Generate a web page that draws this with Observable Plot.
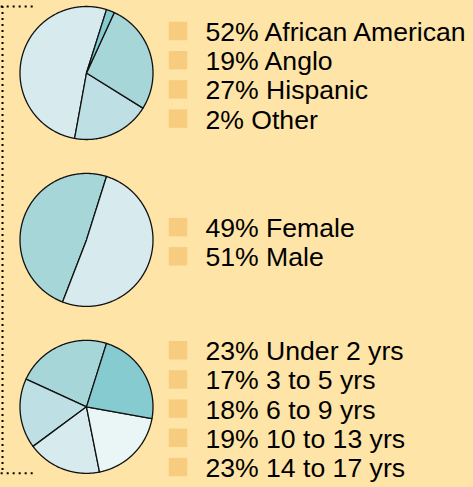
<!DOCTYPE html>
<html>
<head>
<meta charset="utf-8">
<script src="https://cdn.jsdelivr.net/npm/d3@7"></script>
<script src="https://cdn.jsdelivr.net/npm/@observablehq/plot@0.6"></script>
<style>
  html, body { margin: 0; padding: 0; background: #fee4a6; }
  #chart svg { display: block; }
</style>
</head>
<body>
<div id="chart"></div>
<script>
// ---- data ----
const ethnicityLabels = ["African American", "Anglo", "Hispanic", "Other"];
const ethnicityValues = [52, 19, 27, 2];
const genderLabels = ["Female", "Male"];
const genderValues = [49, 51];
const ageLabels = ["Under 2 yrs", "3 to 5 yrs", "6 to 9 yrs", "10 to 13 yrs", "14 to 17 yrs"];
const ageValues = [23, 17, 18, 19, 23];

// ---- styles ----
const ethnicityColors = ["#d7ebee", "#bee0e4", "#a6d6d8", "#86cbcf"];
const genderColors = ["#a6d6d8", "#d7ebee"];
const ageColors = ["#a6d6d8", "#bee0e4", "#d7ebee", "#eaf5f5", "#86cbcf"];

const groups = [
  {labels: ethnicityLabels, values: ethnicityValues, colors: ethnicityColors},
  {labels: genderLabels, values: genderValues, colors: genderColors},
  {labels: ageLabels, values: ageValues, colors: ageColors}
];

// layout (units: pie radius = 1)
const W = 473, H = 487, R = 66.5;
const gap = 2.51;            // vertical distance between pie centres
const startDeg = 17.5;       // slices laid out counter-clockwise from here
const rowPitch = 29.2 / R;
const rowShift = 1.8 / R;
const squareX = 1.376, textX = 1.789;

const slices = [], legend = [];
groups.forEach((g, gi) => {
  const cy = gi * gap;
  const total = d3.sum(g.values);
  let cum = 0;
  g.values.forEach((v, i) => {
    const a0 = startDeg - cum / total * 360;
    const a1 = startDeg - (cum + v) / total * 360;
    const n = Math.max(2, Math.ceil(Math.abs(a1 - a0) / 0.5));
    const id = gi + "-" + i;
    slices.push({id, x: 0, y: cy, fill: g.colors[i]});
    for (let k = 0; k <= n; k++) {
      const a = (a0 + (a1 - a0) * k / n) * Math.PI / 180;
      slices.push({id, x: Math.sin(a), y: cy - Math.cos(a), fill: g.colors[i]});
    }
    cum += v;
    legend.push({
      y: cy + (i - (g.values.length - 1) / 2) * rowPitch + rowShift,
      text: `${v}% ${g.labels[i]}`
    });
  });
});

const yTop = -1, yBottom = (groups.length - 1) * gap + 1;
const bracketX = (2 - 86) / R, bracketEnd = (36 - 86) / R;

const chart = Plot.plot({
  width: W,
  height: H,
  margin: 0,
  x: {domain: [-86 / R, (W - 86) / R], range: [0, W], axis: null},
  y: {domain: [-72.5 / R, (H - 72.5) / R], range: [0, H], axis: null},
  color: {type: "identity"},
  style: {background: "#fee4a6", fontFamily: "'Liberation Sans', Arial, sans-serif"},
  marks: [
    // dotted bracket
    Plot.ruleX([bracketX], {y1: yTop, y2: yBottom, stroke: "#000", strokeWidth: 2, strokeDasharray: "2,4"}),
    Plot.ruleY([yTop, yBottom], {x1: bracketX - 0.02, x2: bracketEnd, stroke: "#000", strokeWidth: 2, strokeDasharray: "2,4"}),
    // pies
    Plot.line(slices, {
      x: "x", y: "y", z: "id", fill: "fill",
      stroke: "#111", strokeWidth: 1.3, curve: "linear-closed", strokeLinejoin: "round"
    }),
    // legend
    Plot.dot(legend, {x: () => squareX, y: "y", symbol: "square", r: 10.4, fill: "#f8cc7e", stroke: null}),
    Plot.text(legend, {
      x: () => textX, y: "y", text: "text", textAnchor: "start",
      fontSize: 26.6, fill: "#000", dy: 1.5
    })
  ]
});
document.getElementById("chart").append(chart);
</script>
</body>
</html>
